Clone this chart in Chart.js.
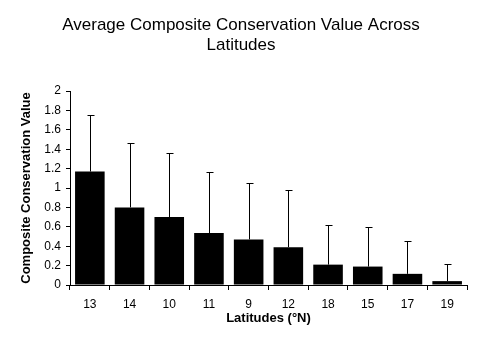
<!DOCTYPE html>
<html>
<head>
<meta charset="utf-8">
<script src="https://cdn.jsdelivr.net/npm/chart.js@4/dist/chart.umd.min.js"></script>
<style>
html,body{margin:0;padding:0;background:#fff;}
#wrap{width:481px;height:355px;position:relative;}
</style>
</head>
<body>
<div id="wrap"><canvas id="c" width="481" height="355"></canvas></div>
<script>
const categories = ['13','14','10','11','9','12','18','15','17','19'];
const meanValues = [1.17, 0.80, 0.70, 0.535, 0.47, 0.39, 0.21, 0.19, 0.115, 0.04];
const errorValues = [0.58, 0.66, 0.66, 0.625, 0.585, 0.585, 0.405, 0.41, 0.335, 0.175];
const yTicks = [0, 0.2, 0.4, 0.6, 0.8, 1, 1.2, 1.4, 1.6, 1.8, 2];

const FONT = 'Arial, "Liberation Sans", sans-serif';

const errorBars = {
  id: 'errorBars',
  afterDatasetsDraw(chart) {
    const ctx = chart.ctx;
    const meta = chart.getDatasetMeta(0);
    const ys = chart.scales.y;
    ctx.save();
    ctx.strokeStyle = '#000';
    ctx.lineWidth = 1;
    meta.data.forEach((bar, i) => {
      const x = Math.round(bar.x) + 0.5;
      const y0 = ys.getPixelForValue(meanValues[i]);
      const y1 = Math.round(ys.getPixelForValue(meanValues[i] + errorValues[i])) + 0.5;
      ctx.beginPath();
      ctx.moveTo(x, y0);
      ctx.lineTo(x, y1);
      ctx.moveTo(x - 3, y1);
      ctx.lineTo(x + 4, y1);
      ctx.stroke();
    });
    ctx.restore();
  }
};

new Chart(document.getElementById('c'), {
  type: 'bar',
  data: {
    labels: categories,
    datasets: [{
      data: meanValues,
      backgroundColor: '#000',
      borderWidth: 0,
      categoryPercentage: 1,
      barPercentage: 0.745
    }]
  },
  options: {
    responsive: false,
    animation: false,
    devicePixelRatio: 1,
    layout: { padding: { left: 15, right: 14, top: 0, bottom: 0 } },
    plugins: {
      legend: { display: false },
      tooltip: { enabled: false },
      title: {
        display: true,
        text: ['Average Composite Conservation Value Across', 'Latitudes'],
        color: '#000',
        font: { family: FONT, size: 17, weight: 'normal', lineHeight: 20/17 },
        padding: { top: 15, bottom: 36 }
      }
    },
    scales: {
      x: {
        grid: { display: true, drawOnChartArea: false, drawTicks: true, tickLength: 5, color: '#000', offset: true },
        border: { display: true, color: '#000', width: 1 },
        ticks: { color: '#000', font: { family: FONT, size: 12 }, padding: 7, maxRotation: 0 },
        title: {
          display: true, text: 'Latitudes (°N)', color: '#000',
          font: { family: FONT, size: 13, weight: 'bold' },
          padding: { top: 4, bottom: 29 }
        },
        afterFit(scale) { scale.height = 70; }
      },
      y: {
        min: 0, max: 2,
        afterBuildTicks(scale) { scale.ticks = yTicks.map(v => ({ value: v })); },
        grid: { display: true, drawOnChartArea: false, drawTicks: true, tickLength: 4, color: '#000' },
        border: { display: true, color: '#000', width: 1 },
        ticks: {
          color: '#000', font: { family: FONT, size: 12 }, padding: 5,
          callback: (v) => String(Number(v.toFixed(1)))
        },
        title: {
          display: true, text: 'Composite Conservation Value', color: '#000',
          font: { family: FONT, size: 13, weight: 'bold' },
          padding: { top: 4, bottom: 4 }
        },
        afterFit(scale) { scale.width = 55; }
      }
    }
  },
  plugins: [errorBars]
});
</script>
</body>
</html>
